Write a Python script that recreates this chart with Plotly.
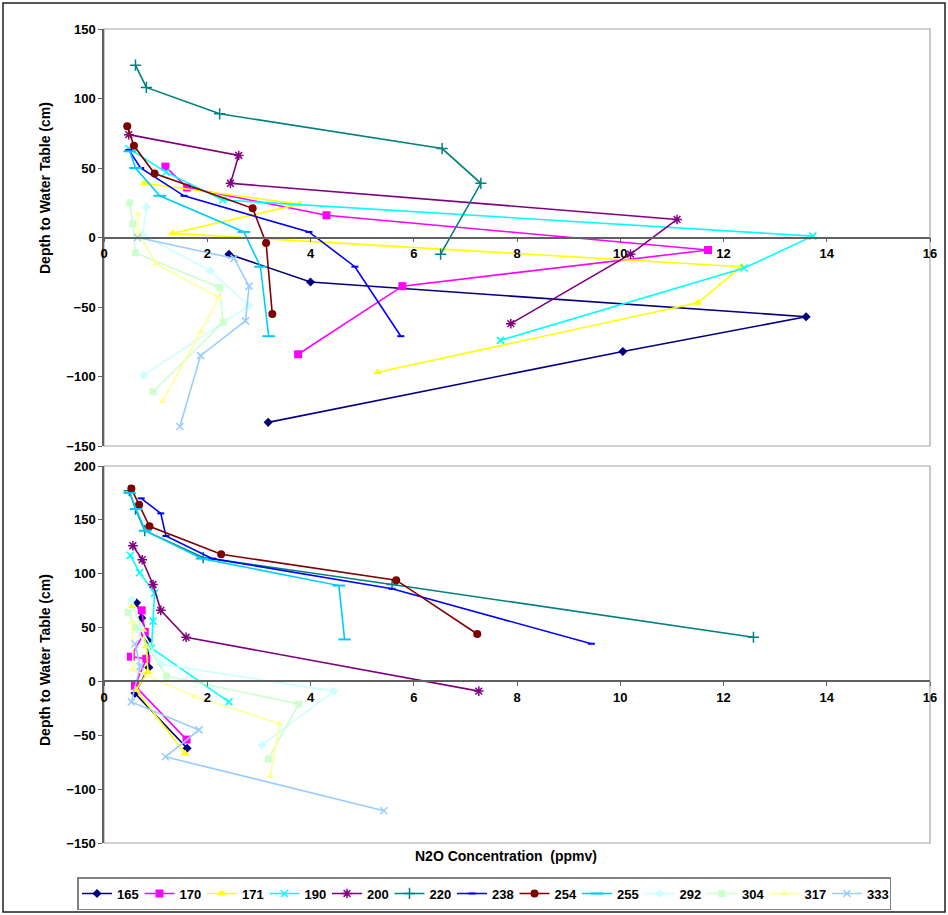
import plotly.graph_objects as go

# Wells / sampling stations
SITES = ["165", "170", "171", "190", "200", "220", "238", "254", "255", "292", "304", "317", "333"]

# ---- Upper panel: N2O (ppmv) and depth to water table (cm) ----
UP_165_N2O = [2.42, 4.0, 13.6, 10.05, 3.18]
UP_165_DEPTH = [-12, -32, -57, -82, -133]
UP_170_N2O = [1.19, 1.61, 4.31, 11.7, 5.78, 3.76]
UP_170_DEPTH = [51, 36, 16, -9, -35, -84]
UP_171_N2O = [0.78, 3.79, 1.33, 12.35, 11.5, 5.3]
UP_171_DEPTH = [39, 24, 3, -21, -47, -97]
UP_190_N2O = [0.48, 1.2, 2.3, 13.73, 12.4, 7.68]
UP_190_DEPTH = [64, 47, 27, 1, -22, -74]
UP_200_N2O = [0.48, 2.61, 2.45, 11.1, 10.2, 7.88]
UP_200_DEPTH = [74, 59, 39, 13, -12, -62]
UP_220_N2O = [0.61, 0.82, 2.24, 6.55, 7.3, 6.52]
UP_220_DEPTH = [124, 108, 89, 64, 39, -12]
UP_238_N2O = [0.48, 0.71, 1.55, 3.97, 4.86, 5.75]
UP_238_DEPTH = [63, 50, 30, 4, -21, -71]
UP_254_N2O = [0.45, 0.58, 0.98, 2.88, 3.14, 3.26]
UP_254_DEPTH = [80, 66, 46, 21, -4, -55]
UP_255_N2O = [0.5, 0.61, 1.08, 2.71, 3.03, 3.19]
UP_255_DEPTH = [62, 50, 30, 4, -21, -71]
UP_292_N2O = [0.82, 0.75, 2.06, 2.81, 0.77]
UP_292_DEPTH = [22, 2, -24, -49, -99]
UP_304_N2O = [0.5, 0.56, 0.61, 2.24, 2.31, 0.95]
UP_304_DEPTH = [25, 10, -11, -36, -61, -111]
UP_317_N2O = [0.66, 0.67, 1.01, 2.22, 1.87, 1.13]
UP_317_DEPTH = [17, 3, -19, -43, -68, -118]
UP_333_N2O = [0.65, 2.52, 2.81, 2.74, 1.87, 1.47]
UP_333_DEPTH = [0, -15, -35, -60, -85, -136]

# ---- Lower panel ----
LO_165_N2O = [0.63, 0.73, 0.85, 0.87, 0.6, 1.61]
LO_165_DEPTH = [73, 59, 38, 13, -11, -62]
LO_170_N2O = [0.73, 0.79, 0.52, 0.82, 0.6, 1.6]
LO_170_DEPTH = [66, 46, 23, 21, -4, -54]
LO_171_N2O = [0.56, 0.75, 0.82, 0.85, 0.62, 1.57]
LO_171_DEPTH = [70, 48, 33, 9, -8, -67]
LO_190_N2O = [0.51, 0.69, 0.98, 0.95, 0.92, 2.42]
LO_190_DEPTH = [117, 101, 82, 56, 31, -19]
LO_200_N2O = [0.56, 0.74, 0.95, 1.1, 1.59, 7.26]
LO_200_DEPTH = [126, 113, 90, 66, 41, -9]
LO_220_N2O = [0.49, 0.61, 0.79, 1.92, 5.58, 12.58]
LO_220_DEPTH = [177, 160, 140, 115, 90, 41]
LO_238_N2O = [0.72, 1.1, 1.2, 2.1, 5.58, 9.44]
LO_238_DEPTH = [170, 156, 135, 114, 86, 35]
LO_254_N2O = [0.53, 0.68, 0.88, 2.27, 5.66, 7.23]
LO_254_DEPTH = [179, 164, 144, 118, 94, 44]
LO_255_N2O = [0.5, 0.62, 0.8, 1.9, 4.55, 4.66]
LO_255_DEPTH = [175, 160, 140, 114, 89, 39]
LO_292_N2O = [0.54, 0.7, 1.11, 4.45, 3.06]
LO_292_DEPTH = [76, 50, 16, -9, -59]
LO_304_N2O = [0.47, 0.6, 1.21, 3.77, 3.18]
LO_304_DEPTH = [64, 50, 5, -21, -72]
LO_317_N2O = [0.55, 0.56, 1.76, 3.4, 3.22]
LO_317_DEPTH = [55, 11, -14, -39, -88]
LO_333_N2O = [0.6, 0.7, 0.53, 1.84, 1.19, 5.42]
LO_333_DEPTH = [35, 14, -19, -45, -70, -120]

UPPER = {
    "165": (UP_165_N2O, UP_165_DEPTH), "170": (UP_170_N2O, UP_170_DEPTH),
    "171": (UP_171_N2O, UP_171_DEPTH), "190": (UP_190_N2O, UP_190_DEPTH),
    "200": (UP_200_N2O, UP_200_DEPTH), "220": (UP_220_N2O, UP_220_DEPTH),
    "238": (UP_238_N2O, UP_238_DEPTH), "254": (UP_254_N2O, UP_254_DEPTH),
    "255": (UP_255_N2O, UP_255_DEPTH), "292": (UP_292_N2O, UP_292_DEPTH),
    "304": (UP_304_N2O, UP_304_DEPTH), "317": (UP_317_N2O, UP_317_DEPTH),
    "333": (UP_333_N2O, UP_333_DEPTH),
}
LOWER = {
    "165": (LO_165_N2O, LO_165_DEPTH), "170": (LO_170_N2O, LO_170_DEPTH),
    "171": (LO_171_N2O, LO_171_DEPTH), "190": (LO_190_N2O, LO_190_DEPTH),
    "200": (LO_200_N2O, LO_200_DEPTH), "220": (LO_220_N2O, LO_220_DEPTH),
    "238": (LO_238_N2O, LO_238_DEPTH), "254": (LO_254_N2O, LO_254_DEPTH),
    "255": (LO_255_N2O, LO_255_DEPTH), "292": (LO_292_N2O, LO_292_DEPTH),
    "304": (LO_304_N2O, LO_304_DEPTH), "317": (LO_317_N2O, LO_317_DEPTH),
    "333": (LO_333_N2O, LO_333_DEPTH),
}

X_TICKS = [0, 2, 4, 6, 8, 10, 12, 14, 16]
UP_Y_TICKS = [150, 100, 50, 0, -50, -100, -150]
LO_Y_TICKS = [200, 150, 100, 50, 0, -50, -100, -150]

# Line colour and marker for each station
STYLE = {
    "165": ("#000080", "diamond", 7, 0),
    "170": ("#FF00FF", "square", 8, 0),
    "171": ("#FFFF00", "triangle-up", 8, 0),
    "190": ("#00FFFF", "x-thin", 7, 1.5),
    "200": ("#800080", "asterisk", 8, 1.5),
    "220": ("#008080", "cross-thin", 8, 1.5),
    "238": ("#0000FF", "line-ew", 5, 2),
    "254": ("#800000", "circle", 8, 0),
    "255": ("#00CCFF", "line-ew", 9, 2),
    "292": ("#CCFFFF", "diamond", 7, 0),
    "304": ("#CCFFCC", "square", 7, 0),
    "317": ("#FFFF99", "triangle-up", 7, 0),
    "333": ("#99CCFF", "x-thin", 7, 1.5),
}

W, H = 948, 915
FONT = "Arial, Liberation Sans, sans-serif"

# Plot-area placement (pixels)
PX_L, PX_R = 104, 930
UP_T, UP_B = 29, 446
LO_T, LO_B = 466, 843
UP_RANGE = [-150, 150]
LO_RANGE = [-150, 200]


def ydom(top, bottom):
    return [1 - bottom / H, 1 - top / H]


def zero_pos(dom, rng):
    # paper position of depth 0 within a panel
    return dom[0] + (0 - rng[0]) / (rng[1] - rng[0]) * (dom[1] - dom[0])


x_dom = [PX_L / W, PX_R / W]
up_dom = ydom(UP_T, UP_B)
lo_dom = ydom(LO_T, LO_B)

fig = go.Figure()

for panel, (xa, ya) in ((UPPER, ("x", "y")), (LOWER, ("x2", "y2"))):
    for site in SITES:
        conc, depth = panel[site]
        color, sym, size, lw = STYLE[site]
        marker = dict(symbol=sym, size=size, color=color,
                      line=dict(color=color, width=lw))
        fig.add_trace(go.Scatter(
            x=conc, y=depth, mode="lines+markers", name=site,
            legendgroup=site, showlegend=(xa == "x"),
            line=dict(color=color, width=1.6),
            marker=marker, xaxis=xa, yaxis=ya,
        ))

axis_font = dict(family=FONT, size=13, color="black", weight="bold")
common_x = dict(range=[0, 16], tickvals=X_TICKS, ticks="outside", ticklen=4,
                tickcolor="#606060", showline=True, linecolor="#606060",
                linewidth=1.5, showgrid=False, zeroline=False,
                tickfont=axis_font, anchor="free", domain=x_dom,
                automargin=False)
common_y = dict(ticks="outside", ticklen=4, tickcolor="#606060",
                showline=True, linecolor="#606060", linewidth=1.5,
                showgrid=False, zeroline=False, tickfont=axis_font,
                automargin=False)

fig.update_layout(
    width=W, height=H,
    margin=dict(l=0, r=0, t=0, b=0, pad=0, autoexpand=False),
    paper_bgcolor="white", plot_bgcolor="white",
    font=dict(family=FONT, size=12, color="black"),
    xaxis=dict(**common_x, position=zero_pos(up_dom, UP_RANGE)),
    yaxis=dict(**common_y, domain=up_dom, range=UP_RANGE,
               tickvals=UP_Y_TICKS, anchor="x"),
    xaxis2=dict(**common_x, position=zero_pos(lo_dom, LO_RANGE)),
    yaxis2=dict(**common_y, domain=lo_dom, range=LO_RANGE,
                tickvals=LO_Y_TICKS, anchor="x2"),
    legend=dict(
        orientation="h", x=77 / W, y=1 - 877 / H, xanchor="left", yanchor="top",
        bgcolor="white", bordercolor="#808080", borderwidth=1.5,
        font=dict(family=FONT, size=13, color="black", weight="bold"),
        itemwidth=30, entrywidth=17.5, entrywidthmode="pixels",
        tracegroupgap=0,
    ),
    showlegend=True,
)

# Plot-area frames and outer chart border
shapes = []
for xr, yr in (("x domain", "y domain"), ("x2 domain", "y2 domain")):
    shapes.append(dict(type="rect", xref=xr, yref=yr, x0=0, x1=1, y0=0, y1=1,
                       line=dict(color="#A6A6A6", width=1.2), layer="below"))
shapes.append(dict(type="rect", xref="paper", yref="paper",
                   x0=3 / W, x1=945 / W, y0=1 - 912 / H, y1=1 - 3 / H,
                   line=dict(color="#202020", width=1.5)))
fig.update_layout(shapes=shapes)

title_font = dict(family=FONT, size=14, color="black", weight="bold")
annotations = [
    dict(text="Depth to Water Table (cm)", x=45 / W, y=1 - 188 / H,
         xref="paper", yref="paper", textangle=-90, showarrow=False,
         font=title_font, xanchor="center", yanchor="middle"),
    dict(text="Depth to Water Table (cm)", x=45 / W, y=1 - 660 / H,
         xref="paper", yref="paper", textangle=-90, showarrow=False,
         font=title_font, xanchor="center", yanchor="middle"),
    dict(text="N2O Concentration  (ppmv)", x=506 / W, y=1 - 856 / H,
         xref="paper", yref="paper", showarrow=False, font=title_font,
         xanchor="center", yanchor="middle"),
]
fig.update_layout(annotations=annotations)

fig.write_html("out.html")
